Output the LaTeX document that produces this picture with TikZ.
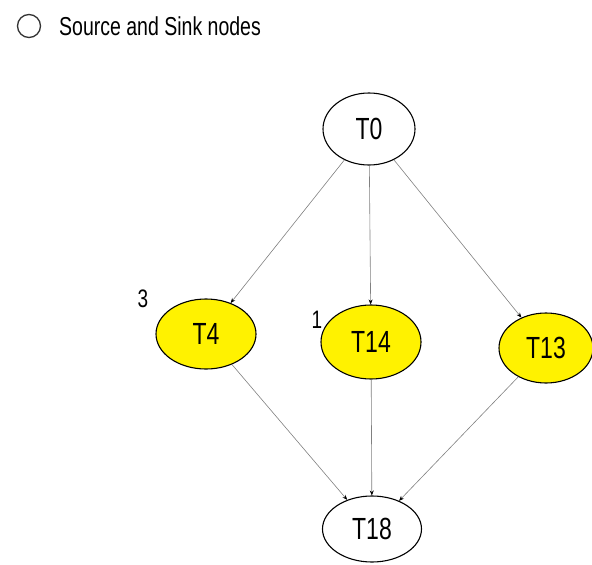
\documentclass[tikz,border=0pt]{standalone}
\usepackage{fontspec}
\setmainfont{Liberation Sans}
\usetikzlibrary{shapes.geometric,arrows.meta}
% tall, narrow lettering used throughout the chart
\newcommand{\tallstr}[1]{\scalebox{1}[1.33]{#1}}
\begin{document}
\begin{tikzpicture}[x=1pt,y=-1pt,
  task/.style={ellipse,draw=black,line width=1.1pt,inner sep=0pt,
    minimum width=96pt,minimum height=70pt,font=\fontsize{23}{25}\selectfont},
  active/.style={task,fill=yellow},
  flow/.style={draw=black!50,line width=0.6pt,
    -{Stealth[length=5pt,width=4pt,black]}},
  weight/.style={font=\fontsize{19}{21}\selectfont}]
\useasboundingbox (0,0) rectangle (592,565);
% legend
\node[circle,draw=black!80,line width=1.3pt,minimum size=23pt,inner sep=0pt] (key) at (29,26) {};
\node[anchor=west,inner sep=0pt,font=\fontsize{19.5}{21}\selectfont] (keytext) at (59,26) {\tallstr{Source and Sink nodes}};
% task nodes
\node[task,minimum width=92pt,minimum height=72pt] (t0) at (369,129) {\tallstr{T0}};
\node[active,minimum width=100pt] (t4) at (206,334) {\tallstr{T4}};
\node[active,minimum width=100pt,minimum height=74pt] (t14) at (371,342) {\tallstr{T14}};
\node[active,minimum width=94pt] (t13) at (546,348) {\tallstr{T13}};
\node[task,minimum width=99pt,minimum height=66pt] (t18) at (372,529) {\tallstr{T18}};
% weights
\node[weight] (w4) at (143,299) {\tallstr{3}};
\node[weight] (w14) at (317,320) {\tallstr{1}};
% edges
\draw[flow] (t0) -- (t4);
\draw[flow] (t0) -- (t14);
\draw[flow] (t0) -- (t13);
\draw[flow] (t4) -- (t18);
\draw[flow] (t14) -- (t18);
\draw[flow] (t13) -- (t18);
\end{tikzpicture}
\end{document}
